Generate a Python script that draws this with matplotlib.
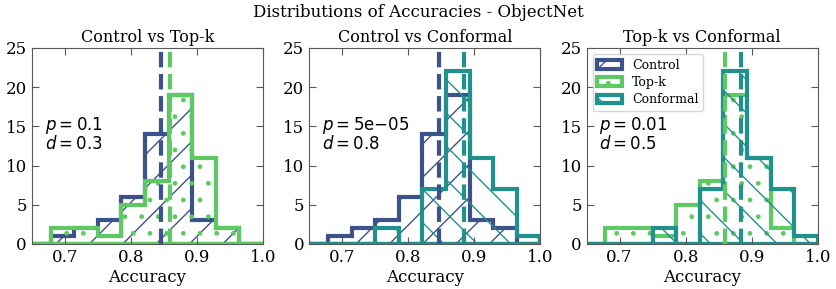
import numpy as np
import matplotlib
matplotlib.use("Agg")
import matplotlib.pyplot as plt
from matplotlib.patches import Patch

plt.rcParams['font.family'] = 'DejaVu Serif'

# histogram bins (width 1/28) and counts
bin_edges = np.arange(18, 29) / 28.0
control_counts = [0, 1, 2, 3, 6, 14, 19, 3, 2, 0]
topk_counts = [0, 2, 2, 1, 5, 8, 19, 11, 2, 0]
conformal_counts = [0, 0, 0, 2, 0, 7, 22, 11, 7, 1]

# means (dashed lines)
control_mean = 0.846
topk_mean = 0.859
conformal_mean = 0.884

panel_titles = ['Control vs Top-k', 'Control vs Conformal', 'Top-k vs Conformal']
p_values = ['0.1', '5\\mathrm{e}{-}05', '0.01']
d_values = ['0.3', '0.8', '0.5']

c_control = '#3b528b'
c_topk = '#5ec962'
c_conf = '#21918c'

series = {
    'Control': (control_counts, control_mean, c_control, '/'),
    'Top-k': (topk_counts, topk_mean, c_topk, '.'),
    'Conformal': (conformal_counts, conformal_mean, c_conf, '\\'),
}
pairs = [('Control', 'Top-k'), ('Control', 'Conformal'), ('Top-k', 'Conformal')]

fig, axes = plt.subplots(1, 3, figsize=(8.37, 2.89), dpi=100)
fig.subplots_adjust(left=0.038, right=0.977, bottom=0.156, top=0.834, wspace=0.2)

centers = (bin_edges[:-1] + bin_edges[1:]) / 2
for i, ax in enumerate(axes):
    for name in pairs[i]:
        counts, mean, col, hatch = series[name]
        ax.hist(centers, bins=bin_edges, weights=counts, histtype='stepfilled',
                facecolor='none', edgecolor=col, lw=3, hatch=hatch)
    for name in pairs[i]:
        counts, mean, col, hatch = series[name]
        ax.axvline(mean, color=col, ls='--', lw=3)

    ax.set_xlim(0.65, 1.0)
    ax.set_ylim(0, 25)
    ax.set_xticks([0.7, 0.8, 0.9, 1.0])
    ax.set_yticks([0, 5, 10, 15, 20, 25])
    ax.tick_params(direction='in', top=True, right=True, labelsize=12,
                   length=5, color='0.35')
    for s in ax.spines.values():
        s.set_color('0.35')
    ax.set_xlabel('Accuracy', fontsize=12, labelpad=2)
    ax.set_title(panel_titles[i], fontsize=11.5, pad=4)
    ax.text(0.055, 0.56, '$p = %s$\n$d = %s$' % (p_values[i], d_values[i]),
            transform=ax.transAxes, fontsize=12, va='center', linespacing=0.95)

handles = [Patch(facecolor='none', edgecolor=series[n][2], lw=3, hatch=series[n][3], label=n)
           for n in ['Control', 'Top-k', 'Conformal']]
axes[2].legend(handles=handles, loc='upper left', fontsize=9, labelspacing=0.35,
               borderpad=0.35)

fig.suptitle('Distributions of Accuracies - ObjectNet', fontsize=12, y=0.985)

plt.savefig('out.png')
